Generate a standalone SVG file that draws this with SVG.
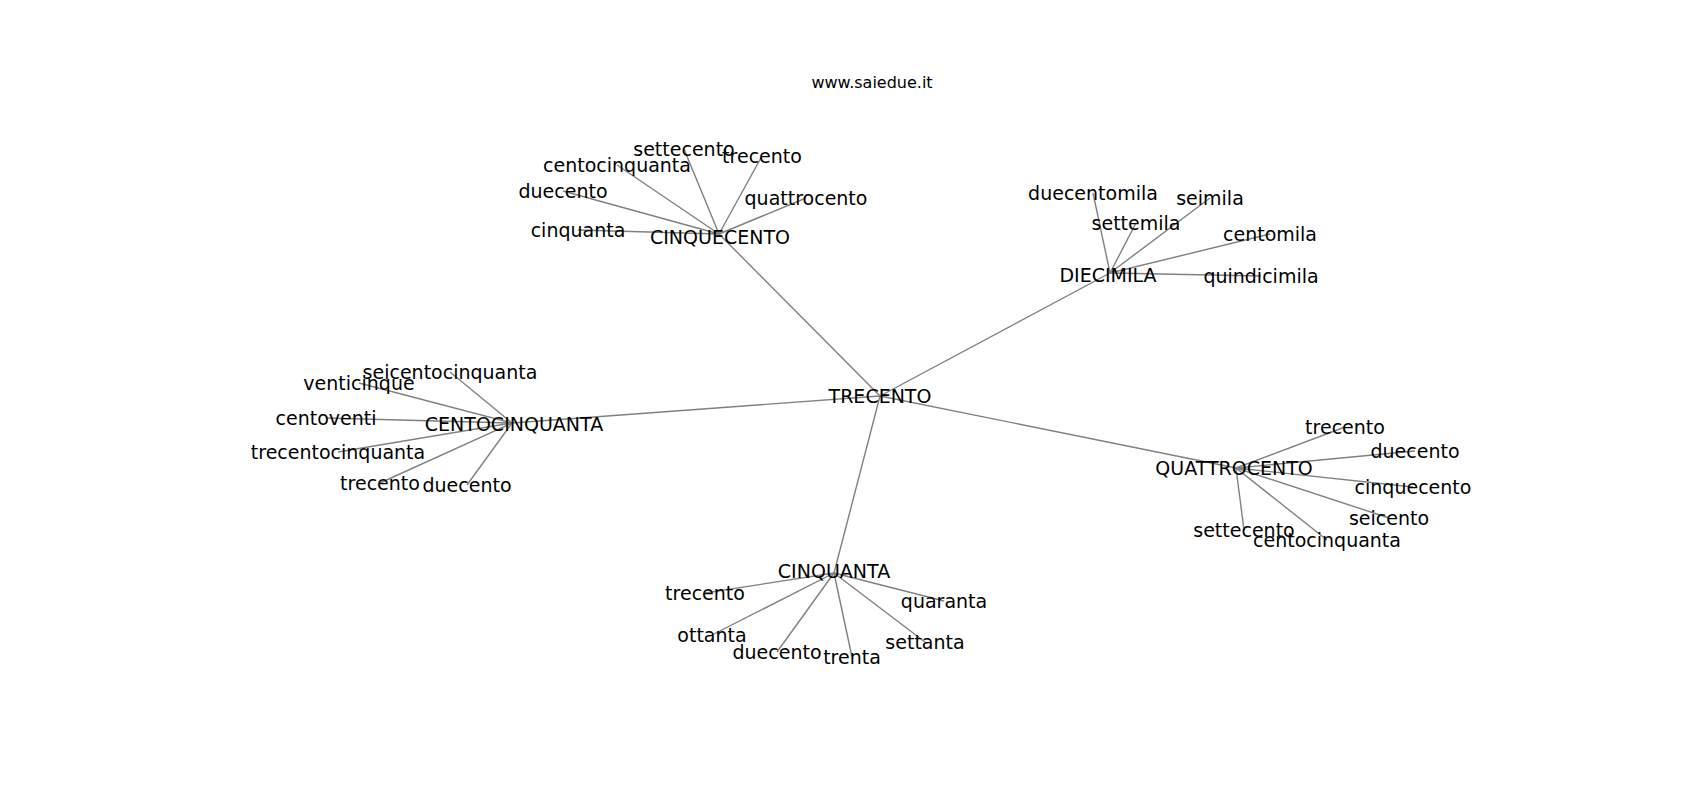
<svg xmlns="http://www.w3.org/2000/svg" width="1700" height="800" viewBox="0 0 1700 800">
<style>
text{font-family:"DejaVu Sans",sans-serif;font-size:19px;fill:#000;text-anchor:middle}
.title{font-size:16px}
.e line{stroke:#808080;stroke-width:1.4}
</style>
<rect width="1700" height="800" fill="#fff"/>
<text class="title" x="872" y="88">www.saiedue.it</text>
<g class="e" id="edges">
<line x1="880" y1="396" x2="719" y2="234"/>
<line x1="880" y1="396" x2="1110" y2="273"/>
<line x1="880" y1="396" x2="512" y2="423"/>
<line x1="880" y1="396" x2="1236" y2="468"/>
<line x1="880" y1="396" x2="834" y2="573"/>
<line x1="719" y1="234" x2="684" y2="149"/>
<line x1="719" y1="234" x2="762" y2="156"/>
<line x1="719" y1="234" x2="617" y2="165"/>
<line x1="719" y1="234" x2="563" y2="191"/>
<line x1="719" y1="234" x2="806" y2="198"/>
<line x1="719" y1="234" x2="578" y2="230"/>
<line x1="1110" y1="273" x2="1093" y2="193"/>
<line x1="1110" y1="273" x2="1210" y2="198"/>
<line x1="1110" y1="273" x2="1136" y2="223"/>
<line x1="1110" y1="273" x2="1270" y2="234"/>
<line x1="1110" y1="273" x2="1261" y2="276"/>
<line x1="512" y1="423" x2="450" y2="372"/>
<line x1="512" y1="423" x2="359" y2="383"/>
<line x1="512" y1="423" x2="326" y2="418"/>
<line x1="512" y1="423" x2="338" y2="452"/>
<line x1="512" y1="423" x2="380" y2="483"/>
<line x1="512" y1="423" x2="467" y2="485"/>
<line x1="1236" y1="468" x2="1345" y2="427"/>
<line x1="1236" y1="468" x2="1415" y2="451"/>
<line x1="1236" y1="468" x2="1413" y2="487"/>
<line x1="1236" y1="468" x2="1389" y2="518"/>
<line x1="1236" y1="468" x2="1244" y2="530"/>
<line x1="1236" y1="468" x2="1327" y2="540"/>
<line x1="834" y1="573" x2="705" y2="593"/>
<line x1="834" y1="573" x2="944" y2="601"/>
<line x1="834" y1="573" x2="712" y2="635"/>
<line x1="834" y1="573" x2="925" y2="642"/>
<line x1="834" y1="573" x2="777" y2="652"/>
<line x1="834" y1="573" x2="852" y2="657"/>
</g>
<g id="n-trecento-root"><text x="880" y="403">TRECENTO</text></g>
<g id="n-cinquecento"><text x="720" y="244">CINQUECENTO</text></g>
<g id="n-diecimila"><text x="1108" y="281.5">DIECIMILA</text></g>
<g id="n-centocinquanta"><text x="514" y="431">CENTOCINQUANTA</text></g>
<g id="n-quattrocento"><text x="1234" y="475">QUATTROCENTO</text></g>
<g id="n-cinquanta"><text x="834" y="578">CINQUANTA</text></g>
<g id="n-c5-settecento"><text x="684" y="156">settecento</text></g>
<g id="n-c5-trecento"><text x="762" y="162.5">trecento</text></g>
<g id="n-c5-centocinquanta"><text x="617" y="171.5">centocinquanta</text></g>
<g id="n-c5-duecento"><text x="563" y="197.5">duecento</text></g>
<g id="n-c5-quattrocento"><text x="806" y="204.5">quattrocento</text></g>
<g id="n-c5-cinquanta"><text x="578" y="236.5">cinquanta</text></g>
<g id="n-dm-duecentomila"><text x="1093" y="199.5">duecentomila</text></g>
<g id="n-dm-seimila"><text x="1210" y="204.5">seimila</text></g>
<g id="n-dm-settemila"><text x="1136" y="229.5">settemila</text></g>
<g id="n-dm-centomila"><text x="1270" y="240.5">centomila</text></g>
<g id="n-dm-quindicimila"><text x="1261" y="282.5">quindicimila</text></g>
<g id="n-c150-seicentocinquanta"><text x="450" y="378.5">seicentocinquanta</text></g>
<g id="n-c150-venticinque"><text x="359" y="389.5">venticinque</text></g>
<g id="n-c150-centoventi"><text x="326" y="424.5">centoventi</text></g>
<g id="n-c150-trecentocinquanta"><text x="338" y="458.5">trecentocinquanta</text></g>
<g id="n-c150-trecento"><text x="380" y="489.5">trecento</text></g>
<g id="n-c150-duecento"><text x="467" y="491.5">duecento</text></g>
<g id="n-q-trecento"><text x="1345" y="433.5">trecento</text></g>
<g id="n-q-duecento"><text x="1415" y="457.5">duecento</text></g>
<g id="n-q-cinquecento"><text x="1413" y="493.5">cinquecento</text></g>
<g id="n-q-seicento"><text x="1389" y="524.5">seicento</text></g>
<g id="n-q-settecento"><text x="1244" y="536.5">settecento</text></g>
<g id="n-q-centocinquanta"><text x="1327" y="546.5">centocinquanta</text></g>
<g id="n-c50-trecento"><text x="705" y="599.5">trecento</text></g>
<g id="n-c50-quaranta"><text x="944" y="607.5">quaranta</text></g>
<g id="n-c50-ottanta"><text x="712" y="641.5">ottanta</text></g>
<g id="n-c50-settanta"><text x="925" y="648.5">settanta</text></g>
<g id="n-c50-duecento"><text x="777" y="658.5">duecento</text></g>
<g id="n-c50-trenta"><text x="852" y="663.5">trenta</text></g>
</svg>
